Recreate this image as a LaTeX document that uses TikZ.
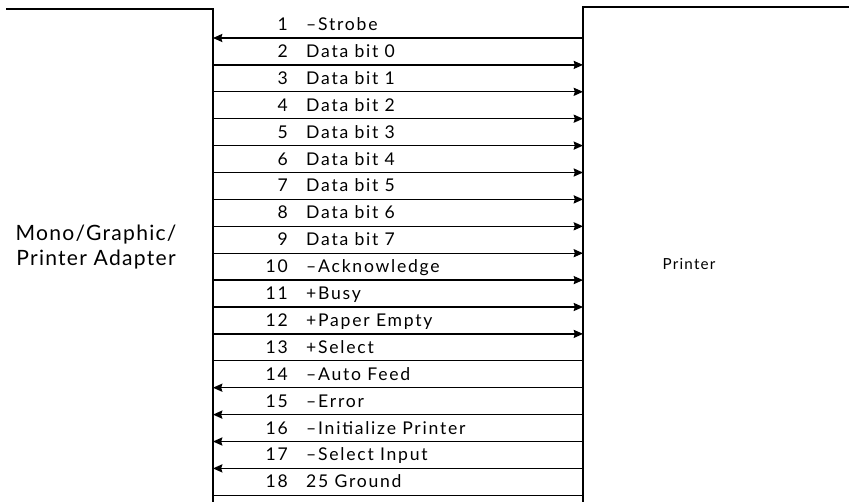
\documentclass[tikz,border=0pt]{standalone}
\usepackage{fontspec}
\setmainfont{Lato}
\usetikzlibrary{arrows.meta}

\begin{document}
\begin{tikzpicture}[x=0.03cm,y=-0.03cm,
  wire/.style={line width=1.1pt},
  tip/.style={-{Stealth[length=8pt,width=7pt,inset=1pt]}},
  pinno/.style={inner sep=0pt,anchor=base east,font=\fontsize{15}{17}\selectfont\addfontfeatures{LetterSpace=10}},
  signame/.style={inner sep=0pt,anchor=base west,font=\fontsize{15}{17}\selectfont\addfontfeatures{LetterSpace=10}}]
  \useasboundingbox (0,0) rectangle (849,502);

  % the two boxes
  \coordinate (atop) at (6,9);
  \coordinate (acorner) at (213,9);
  \coordinate (abot) at (213,502);
  \coordinate (ptop) at (849,7);
  \coordinate (pcorner) at (583,7);
  \coordinate (pbot) at (583,502);
  \draw[wire] (atop) -- (acorner) -- (abot);
  \draw[wire] (ptop) -- (pcorner) -- (pbot);

  \node (adapter) at (96,247) [align=center,font=\fontsize{18}{22}\selectfont\addfontfeatures{LetterSpace=6}] {Mono/Graphic/\\Printer Adapter};
  \node (printer) at (689,264) [font=\fontsize{13}{15}\selectfont\addfontfeatures{LetterSpace=8}] {Printer};

  % pins
  \foreach \k/\txt in {1/--Strobe,2/Data bit 0,3/Data bit 1,4/Data bit 2,5/Data bit 3,6/Data bit 4,
      7/Data bit 5,8/Data bit 6,9/Data bit 7,10/--Acknowledge,11/+Busy,12/+Paper Empty,13/+Select,
      14/--Auto Feed,15/--Error,16/--Initialize Printer,17/--Select Input,18/25 Ground}{
    \pgfmathsetmacro\yy{38+(\k-1)*26.9}
    \coordinate (a\k) at (213,\yy);
    \coordinate (p\k) at (583,\yy);
    \node (num\k) at (288,\yy-7.5) [pinno] {\k};
    \node (sig\k) at (306,\yy-7.5) [signame] {\txt};
  }

  \foreach \k in {1,14,15,16,17} \draw[wire,tip] (p\k) -- (a\k);
  \foreach \k in {2,...,12} \draw[wire,tip] (a\k) -- (p\k);
  \foreach \k in {13,18} \draw[wire] (a\k) -- (p\k);
\end{tikzpicture}
\end{document}
